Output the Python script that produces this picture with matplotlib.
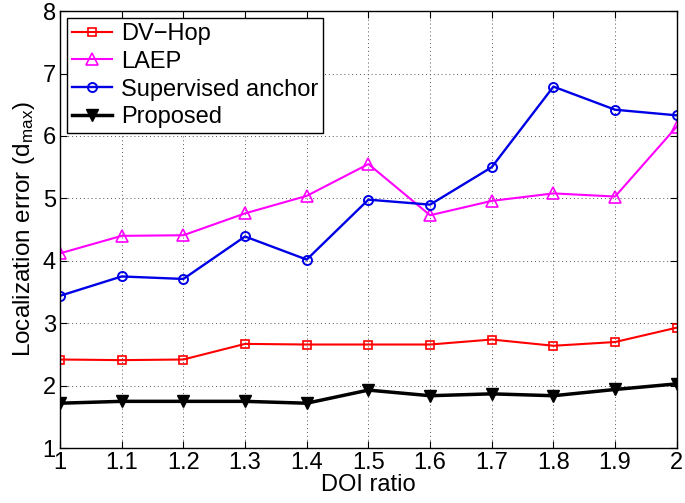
import matplotlib
matplotlib.use("Agg")
import matplotlib.pyplot as plt

plt.rcParams["font.family"] = ["Liberation Sans", "DejaVu Sans"]
plt.rcParams["mathtext.default"] = "regular"

doi = [1.0, 1.1, 1.2, 1.3, 1.4, 1.5, 1.6, 1.7, 1.8, 1.9, 2.0]
dv_hop = [2.42, 2.41, 2.42, 2.67, 2.66, 2.66, 2.66, 2.74, 2.64, 2.70, 2.93]
laep = [4.12, 4.40, 4.41, 4.76, 5.04, 5.55, 4.73, 4.96, 5.08, 5.03, 6.15]
supervised = [3.44, 3.75, 3.71, 4.39, 4.02, 4.98, 4.90, 5.50, 6.79, 6.42, 6.33]
proposed = [1.72, 1.75, 1.75, 1.75, 1.72, 1.93, 1.84, 1.87, 1.84, 1.94, 2.03]

xticks = [1, 1.1, 1.2, 1.3, 1.4, 1.5, 1.6, 1.7, 1.8, 1.9, 2]
xtick_labels = ["1", "1.1", "1.2", "1.3", "1.4", "1.5", "1.6", "1.7", "1.8", "1.9", "2"]

fig = plt.figure(figsize=(6.85, 5.03), dpi=100)
ax = fig.add_axes([0.0876, 0.109, 0.9004, 0.869])

ax.plot(doi, dv_hop, color="red", lw=1.5, marker="s", ms=5.5, mfc="none", mew=1.2, label="DV\u2212Hop")
ax.plot(doi, laep, color="magenta", lw=1.5, marker="^", ms=8, mfc="none", mew=1.2, label="LAEP")
ax.plot(doi, supervised, color="#0000e6", lw=1.7, marker="o", ms=6.5, mfc="none", mew=1.4, label="Supervised anchor")
ax.plot(doi, proposed, color="black", lw=2.5, marker="v", ms=8, label="Proposed")

ax.set_xlim(1, 2)
ax.set_ylim(1, 8)
ax.set_xticks(xticks)
ax.set_xticklabels(xtick_labels)
ax.set_yticks(range(1, 9))
ax.tick_params(direction="in", labelsize=17, length=5, top=True, right=True, pad=3)
ax.grid(True, linestyle=(0, (1, 3)), color="#555555", lw=0.7)
for s in ax.spines.values():
    s.set_linewidth(1.0)

ax.set_xlabel("DOI ratio", fontsize=17, labelpad=0)
ax.set_ylabel("Localization error (d$_{max}$)", fontsize=17.5, labelpad=4)

leg = ax.legend(loc="upper left", bbox_to_anchor=(0.011, 0.984), borderaxespad=0,
                fontsize=17, fancybox=False, framealpha=1, edgecolor="black",
                handlelength=1.7, labelspacing=0.25, borderpad=0.2, handletextpad=0.4)
leg.get_frame().set_linewidth(1.0)

fig.savefig("out.png", dpi=100)
